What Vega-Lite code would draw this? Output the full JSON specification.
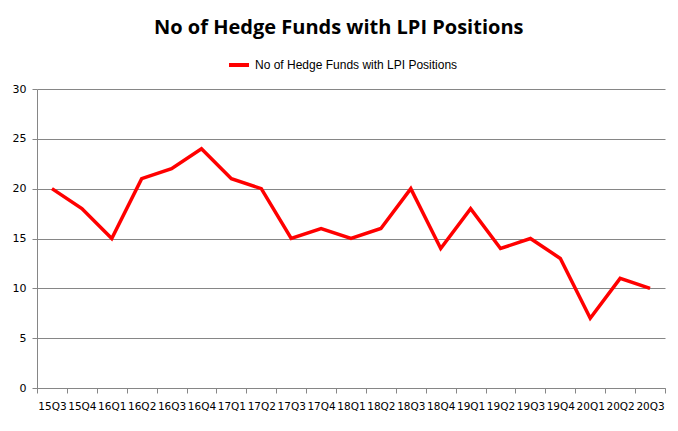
{
  "$schema": "https://vega.github.io/schema/vega-lite/v6.json",
  "autosize": {"type": "fit", "contains": "padding"},
  "width": 678,
  "height": 431,
  "padding": {"left": 12, "top": 18, "right": 12, "bottom": 19},
  "background": "white",
  "title": {
    "text": "No of Hedge Funds with LPI Positions",
    "font": "Open Sans",
    "fontSize": 20,
    "fontWeight": "bold",
    "color": "#000000",
    "anchor": "middle",
    "frame": "bounds",
    "offset": 45
  },
  "data": {
    "values": [
      {"q": "15Q3", "v": 20}, {"q": "15Q4", "v": 18}, {"q": "16Q1", "v": 15},
      {"q": "16Q2", "v": 21}, {"q": "16Q3", "v": 22}, {"q": "16Q4", "v": 24},
      {"q": "17Q1", "v": 21}, {"q": "17Q2", "v": 20}, {"q": "17Q3", "v": 15},
      {"q": "17Q4", "v": 16}, {"q": "18Q1", "v": 15}, {"q": "18Q2", "v": 16},
      {"q": "18Q3", "v": 20}, {"q": "18Q4", "v": 14}, {"q": "19Q1", "v": 18},
      {"q": "19Q2", "v": 14}, {"q": "19Q3", "v": 15}, {"q": "19Q4", "v": 13},
      {"q": "20Q1", "v": 7}, {"q": "20Q2", "v": 11}, {"q": "20Q3", "v": 10}
    ]
  },
  "mark": {"type": "line", "strokeWidth": 3.5, "color": "#ff0000"},
  "encoding": {
    "x": {
      "field": "q",
      "type": "ordinal",
      "sort": null,
      "bandPosition": 0.5,
      "scale": {"type": "band", "paddingInner": 0, "paddingOuter": 0},
      "axis": {
        "title": null,
        "labelAngle": 0,
        "labelOverlap": false,
        "labelFont": "DejaVu Sans",
        "labelFontSize": 10.5,
        "labelColor": "#000000",
        "labelPadding": 8,
        "domainColor": "#868686",
        "tickColor": "#868686",
        "tickBand": "extent",
        "tickSize": 5,
        "grid": false
      }
    },
    "y": {
      "field": "v",
      "type": "quantitative",
      "scale": {"domain": [0, 30]},
      "axis": {
        "title": null,
        "values": [0, 5, 10, 15, 20, 25, 30],
        "labelFont": "DejaVu Sans",
        "labelFontSize": 11,
        "labelColor": "#000000",
        "labelPadding": 6,
        "domainColor": "#868686",
        "tickColor": "#868686",
        "tickSize": 5,
        "gridColor": "#868686",
        "gridWidth": 1
      }
    },
    "color": {
      "datum": "No of Hedge Funds with LPI Positions",
      "scale": {"range": ["#ff0000"]},
      "legend": {
        "title": null,
        "orient": "none",
        "legendX": 190,
        "legendY": -36,
        "symbolType": "stroke",
        "symbolStrokeWidth": 4,
        "symbolSize": 400,
        "labelFont": "Liberation Sans",
        "labelFontSize": 12,
        "labelLimit": 400,
        "labelColor": "#000000",
        "padding": 0
      }
    }
  },
  "config": {
    "view": {"stroke": null}
  }
}
